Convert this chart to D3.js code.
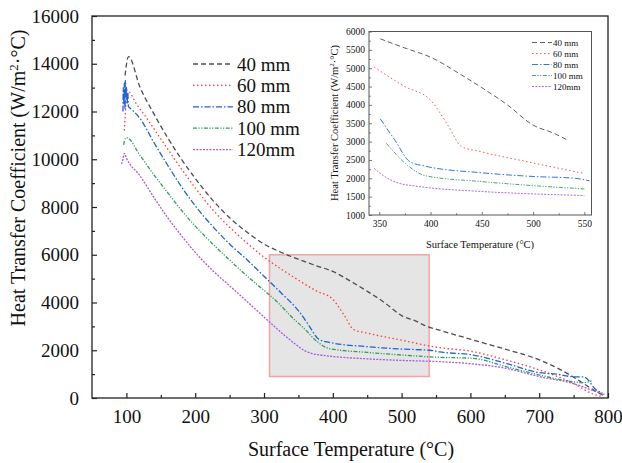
<!DOCTYPE html>
<html>
<head>
<meta charset="utf-8">
<script src="https://cdn.jsdelivr.net/npm/d3@7"></script>
<style>
  body { margin: 0; background: #fff; }
</style>
</head>
<body>
<svg id="chart" width="622" height="463"></svg>
<script>
// surface temperature (°C), heat transfer coefficient (W/m2·°C)
const series40 = [[98,13500],[103,14300],[120,13000],[140,11900],[160,10900],[180,10000],[200,9200],[225,8300],[250,7550],[275,6950],[300,6450],[325,6100],[351,5800],[375,5550],[400,5300],[430,4820],[450,4470],[475,4000],[500,3450],[520,3230],[535,3020],[560,2800],[604,2430],[650,2050],[701,1590],[730,1200],[749,890],[770,500],[783,265],[795,80]];
const series60 = [[97,11200],[99,12200],[100.5,12900],[115,12300],[130,11700],[150,10850],[175,9800],[200,8800],[225,7900],[250,7150],[275,6500],[300,5900],[325,5400],[345,5030],[375,4500],[400,4130],[418,3400],[430,2870],[450,2720],[500,2420],[550,2130],[604,1940],[652,1590],[701,1170],[749,620],[778,170],[792,60]];
const series80 = [[95,12000],[95.5,13000],[96.5,12300],[97,13200],[98,12100],[98.5,13300],[99.5,12600],[100,13000],[101,12300],[102,12800],[103,12200],[105,12150],[120,11700],[140,10700],[160,9750],[180,8850],[200,8050],[225,7200],[250,6450],[275,5800],[300,5100],[325,4400],[351,3620],[365,3050],[380,2450],[395,2330],[450,2150],[500,2050],[541,2000],[555,1930],[604,1800],[652,1450],[701,1060],[725,1000],[749,890],[765,880],[783,335],[792,200]];
const series100 = [[96,10600],[98,10850],[100.5,10900],[120,10150],[140,9350],[160,8600],[187.6,7600],[215,6750],[240,6050],[270,5250],[294,4650],[320,4000],[340,3400],[357,2950],[380,2300],[395,2070],[450,1910],[500,1800],[550,1710],[604,1660],[652,1310],[701,960],[749,680],[765,640],[776,720]];
const series120 = [[93,9800],[95,10000],[97,10250],[100,10050],[120,9300],[140,8400],[160,7550],[180,6800],[200,6100],[225,5350],[250,4700],[275,4050],[294,3550],[315,3000],[330,2620],[345,2270],[358,2000],[370,1860],[385,1790],[450,1640],[500,1575],[550,1530],[604,1424],[652,1243],[701,890],[749,610],[783,265],[795,150]];

const labels = ["40 mm", "60 mm", "80 mm", "100 mm", "120mm"];
const insetFrom = [351, 345, 351, 357, 345];
const insetTo = [535, 550, 555, 550, 550];
const zoomBox = { t0: 308, t1: 540, v0: 900, v1: 6000 };

const allSeries = [series40, series60, series80, series100, series120];
const colors = ["#4d4d4d", "#ff3b3b", "#1f62d8", "#2f9e5c", "#a35ae6"];
const dashes = ["5,3", "1.5,2.5", "6,2,1.5,2", "4,1.5,1.2,1.5,1.2,1.5", "2,1.3"];
const serif = '"Liberation Serif", "Times New Roman", "DejaVu Serif", serif';

const svg = d3.select("#chart");

// main axes
const x = d3.scaleLinear().domain([50, 800]).range([92, 608]);
const y = d3.scaleLinear().domain([0, 16000]).range([398, 16]);

const line = d3.line()
  .x(d => x(d[0]))
  .y(d => y(d[1]))
  .curve(d3.curveMonotoneX);

// zoom rectangle
svg.append("rect")
  .attr("x", x(zoomBox.t0))
  .attr("y", y(zoomBox.v1))
  .attr("width", x(zoomBox.t1) - x(zoomBox.t0))
  .attr("height", y(zoomBox.v0) - y(zoomBox.v1))
  .attr("fill", "#e5e5e5")
  .attr("stroke", "#f5a3a3")
  .attr("stroke-width", 1.5);

allSeries.forEach((s, i) => {
  svg.append("path")
    .attr("d", line(s))
    .attr("fill", "none")
    .attr("stroke", colors[i])
    .attr("stroke-width", 1.3)
    .attr("stroke-dasharray", dashes[i]);
});

// frame
svg.append("rect")
  .attr("x", 92).attr("y", 16)
  .attr("width", 608 - 92).attr("height", 398 - 16)
  .attr("fill", "none").attr("stroke", "#222").attr("stroke-width", 1.3);

const yAxis = d3.axisLeft(y).tickValues(d3.range(0, 16001, 2000)).tickFormat(d3.format("d"))
  .tickSizeInner(-5).tickSizeOuter(0).tickPadding(13);
const gy = svg.append("g").attr("transform", "translate(92,0)").call(yAxis);
gy.select(".domain").remove();
gy.selectAll("text").attr("font-size", 19);
svg.append("g").attr("transform", "translate(92,0)")
  .call(d3.axisLeft(y).tickValues(d3.range(1000, 16000, 2000)).tickSizeInner(-3).tickSizeOuter(0).tickFormat(""))
  .select(".domain").remove();

const xAxis = d3.axisBottom(x).tickValues(d3.range(100, 801, 100)).tickFormat(d3.format("d"))
  .tickSizeInner(-5).tickSizeOuter(0).tickPadding(12);
const gx = svg.append("g").attr("transform", "translate(0,398)").call(xAxis);
gx.select(".domain").remove();
gx.selectAll("text").attr("font-size", 19);
svg.append("g").attr("transform", "translate(0,398)")
  .call(d3.axisBottom(x).tickValues(d3.range(150, 800, 100)).tickSizeInner(-3).tickSizeOuter(0).tickFormat(""))
  .select(".domain").remove();

svg.selectAll(".tick line").attr("stroke", "#222").attr("stroke-width", 1.2);

svg.append("text")
  .attr("x", 351).attr("y", 456)
  .attr("text-anchor", "middle").attr("font-size", 20)
  .text("Surface Temperature (°C)");

const yt = svg.append("text")
  .attr("transform", "translate(25,178) rotate(-90)")
  .attr("text-anchor", "middle").attr("font-size", 20);
yt.append("tspan").text("Heat Transfer Coefficient (W/m");
yt.append("tspan").attr("baseline-shift", "super").attr("font-size", 13).text("2");
yt.append("tspan").text("·°C)");

// main legend
labels.forEach((lab, i) => {
  const ly = 64 + i * 21.4;
  svg.append("line")
    .attr("x1", 193).attr("x2", 233).attr("y1", ly).attr("y2", ly)
    .attr("stroke", colors[i]).attr("stroke-width", 1.3).attr("stroke-dasharray", dashes[i]);
  svg.append("text").attr("x", 237).attr("y", ly + 6.5).attr("font-size", 19).text(lab);
});

// inset
const ix = d3.scaleLinear().domain([340, 557]).range([369, 591.5]);
const iy = d3.scaleLinear().domain([1000, 6000]).range([215, 31.5]);
const inset = svg.append("g");

inset.append("rect")
  .attr("x", 369).attr("y", 31.5)
  .attr("width", 591.5 - 369).attr("height", 215 - 31.5)
  .attr("fill", "#fff");

inset.append("clipPath").attr("id", "insetClip")
  .append("rect").attr("x", 369).attr("y", 31.5).attr("width", 591.5 - 369).attr("height", 215 - 31.5);

const iline = d3.line()
  .x(d => ix(d[0]))
  .y(d => iy(d[1]))
  .curve(d3.curveMonotoneX);

allSeries.forEach((s, i) => {
  const part = s.filter(d => d[0] >= insetFrom[i] && d[0] <= insetTo[i]);
  inset.append("path")
    .attr("d", iline(part))
    .attr("clip-path", "url(#insetClip)")
    .attr("fill", "none")
    .attr("stroke", colors[i])
    .attr("stroke-width", 0.9)
    .attr("stroke-dasharray", dashes[i]);
});

inset.append("rect")
  .attr("x", 369).attr("y", 31.5)
  .attr("width", 591.5 - 369).attr("height", 215 - 31.5)
  .attr("fill", "none").attr("stroke", "#555").attr("stroke-width", 1);

const iyAxis = inset.append("g").attr("transform", "translate(369,0)")
  .call(d3.axisLeft(iy).tickValues(d3.range(1000, 6001, 500)).tickFormat(d3.format("d"))
    .tickSizeInner(-3).tickSizeOuter(0).tickPadding(4));
iyAxis.select(".domain").remove();
iyAxis.selectAll("text").attr("font-size", 9.5);
inset.append("g").attr("transform", "translate(369,0)")
  .call(d3.axisLeft(iy).tickValues(d3.range(1250, 6000, 500)).tickSizeInner(-1.8).tickSizeOuter(0).tickFormat(""))
  .select(".domain").remove();

const ixAxis = inset.append("g").attr("transform", "translate(0,215)")
  .call(d3.axisBottom(ix).tickValues(d3.range(350, 551, 50)).tickFormat(d3.format("d"))
    .tickSizeInner(-3).tickSizeOuter(0).tickPadding(5));
ixAxis.select(".domain").remove();
ixAxis.selectAll("text").attr("font-size", 9.5);
inset.append("g").attr("transform", "translate(0,215)")
  .call(d3.axisBottom(ix).tickValues(d3.range(375, 551, 50)).tickSizeInner(-1.8).tickSizeOuter(0).tickFormat(""))
  .select(".domain").remove();

inset.selectAll(".tick line").attr("stroke", "#555").attr("stroke-width", 0.8);

inset.append("text")
  .attr("x", 480).attr("y", 248)
  .attr("text-anchor", "middle").attr("font-size", 10.5)
  .text("Surface Temperature (°C)");

const iyt = inset.append("text")
  .attr("transform", "translate(338,123) rotate(-90)")
  .attr("text-anchor", "middle").attr("font-size", 10.5);
iyt.append("tspan").text("Heat Transfer Coefficient (W/m");
iyt.append("tspan").attr("baseline-shift", "super").attr("font-size", 7).text("2");
iyt.append("tspan").text("·°C)");

labels.forEach((lab, i) => {
  const ly = 42.5 + i * 11;
  inset.append("line")
    .attr("x1", 532).attr("x2", 552).attr("y1", ly).attr("y2", ly)
    .attr("stroke", colors[i]).attr("stroke-width", 0.9).attr("stroke-dasharray", dashes[i]);
  inset.append("text").attr("x", 553).attr("y", ly + 3.2).attr("font-size", 9).text(lab);
});

// serif text everywhere
svg.selectAll("g").attr("font-family", null);
svg.selectAll("text").style("font-family", serif).style("fill", "#111");
</script>
</body>
</html>
